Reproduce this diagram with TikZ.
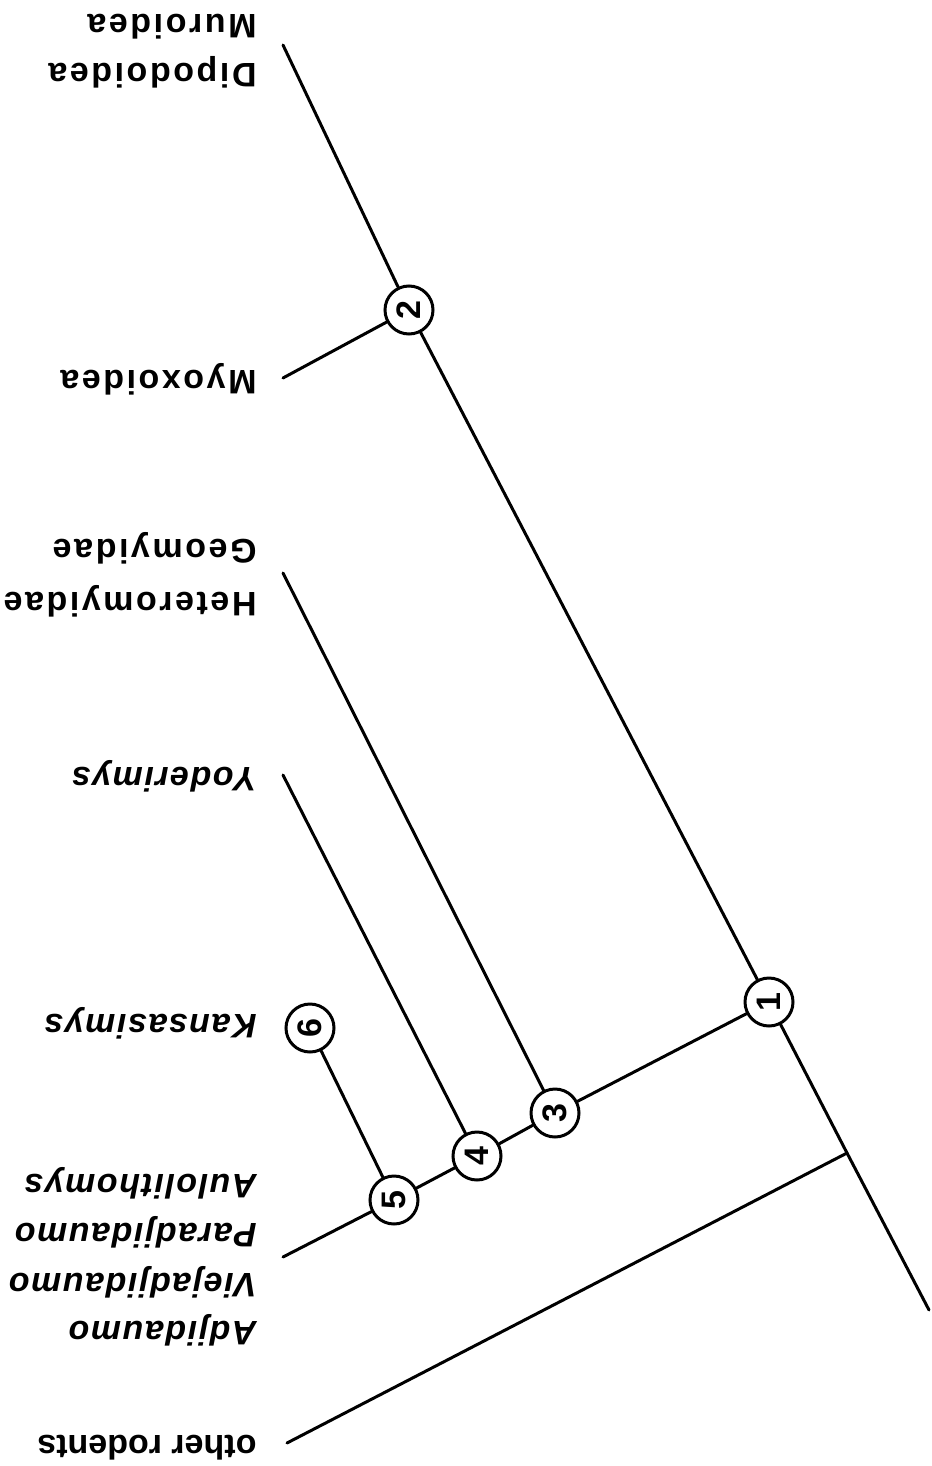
\documentclass[tikz,border=0pt]{standalone}
\usepackage{fontspec}
\setmainfont{Liberation Sans}
\newfontfamily\wideup[LetterSpace=7.5]{Liberation Sans}
\newfontfamily\wideit[LetterSpace=4.5]{Liberation Sans}
\begin{document}
\begin{tikzpicture}[x=0.5pt,y=-0.5pt,line width=1.5pt,line cap=round,
  lbl/.style={rotate=180,anchor=west,inner sep=0pt,text height=0.716em,text depth=0pt,font=\fontsize{17}{17}\wideup\bfseries},
  plbl/.style={lbl,font=\fontsize{17}{17}\selectfont\bfseries},
  ilbl/.style={lbl,font=\fontsize{17}{17}\wideit\bfseries\itshape},
  num/.style={circle,draw,minimum size=24pt,inner sep=0pt,rotate=90,font=\fontsize{17}{17}\selectfont\bfseries}]
\useasboundingbox (0,0) rectangle (931,1466);
% circles
\node[num] (c2) at (409,310) {2};
\node[num] (c1) at (769,1002) {1};
\node[num] (c3) at (555,1113) {3};
\node[num] (c4) at (477,1156) {4};
\node[num] (c5) at (394,1200) {5};
\node[num] (c6) at (310,1028) {6};
% line ends
\coordinate (top) at (283,45);
\coordinate (bot) at (929,1310);
\coordinate (J) at (847,1153);
\coordinate (myo) at (283,378);
\coordinate (het) at (283,573);
\coordinate (yod) at (283,775);
\coordinate (adj) at (283,1257);
\coordinate (oth) at (287,1443);
% connectors
\draw (top) -- (c2) -- (c1) -- (J) -- (bot);
\draw (myo) -- (c2);
\draw (c1) -- (c3) -- (c4) -- (c5) -- (adj);
\draw (het) -- (c3);
\draw (yod) -- (c4);
\draw (c6) -- (c5);
\draw (oth) -- (J);
% labels
\node[lbl] (l1) at (258,22) {Muroidea};
\node[lbl] (l2) at (258,71) {Dipodoidea};
\node[lbl] (l3) at (258,378) {Myoxoidea};
\node[lbl] (l4) at (258,547) {Geomyidae};
\node[lbl] (l5) at (258,600) {Heteromyidae};
\node[ilbl] (l6) at (258,775) {Yoderimys};
\node[ilbl] (l7) at (258,1022) {Kansasimys};
\node[ilbl] (l8) at (258,1182) {Aulolithomys};
\node[ilbl] (l9) at (258,1231) {Paradjidaumo};
\node[ilbl] (l10) at (258,1281) {Viejadjidaumo};
\node[ilbl] (l11) at (258,1329) {Adjidaumo};
\node[plbl] (l12) at (258,1443) {other rodents};
\end{tikzpicture}
\end{document}
